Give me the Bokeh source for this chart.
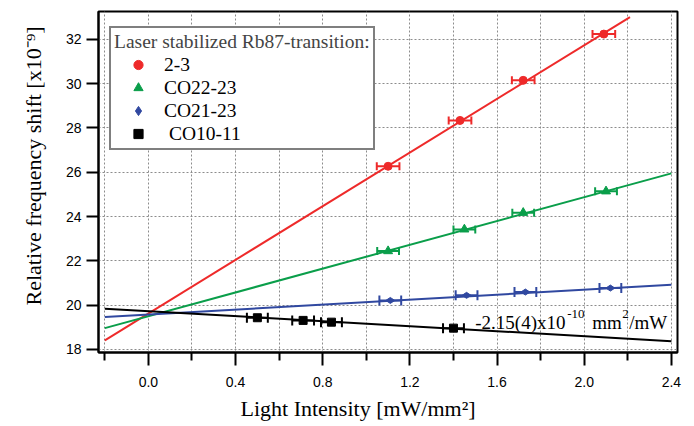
import math
from bokeh.plotting import figure
from bokeh.models import (ColumnDataSource, Whisker, TeeHead, FixedTicker, Legend, LegendItem,
                          PrintfTickFormatter, Range1d, Label, Title)
from bokeh.embed import file_html
from bokeh.resources import INLINE

# ---- data ----
red_x = [1.10, 1.43, 1.72, 2.09]
red_y = [26.27, 28.34, 30.15, 32.24]
red_xerr = [0.052, 0.052, 0.052, 0.052]
red_fit_x = [-0.2, 2.21]
red_fit_y = [18.41, 33.01]

green_x = [1.10, 1.45, 1.72, 2.10]
green_y = [22.44, 23.42, 24.17, 25.14]
green_xerr = [0.05, 0.05, 0.05, 0.05]
green_fit_x = [-0.2, 2.4]
green_fit_y = [18.96, 25.95]

blue_x = [1.11, 1.46, 1.73, 2.12]
blue_y = [20.21, 20.44, 20.59, 20.77]
blue_xerr = [0.05, 0.05, 0.05, 0.05]
blue_fit_x = [-0.2, 2.4]
blue_fit_y = [19.46, 20.92]

black_x = [0.50, 0.71, 0.84, 1.40]
black_y = [19.43, 19.31, 19.23, 18.96]
black_xerr = [0.048, 0.05, 0.048, 0.048]
black_fit_x = [-0.2, 2.4]
black_fit_y = [19.84, 18.37]

x_major = [0.0, 0.4, 0.8, 1.2, 1.6, 2.0, 2.4]
x_minor = [-0.2, 0.2, 0.6, 1.0, 1.4, 1.8, 2.2]
y_major = [18, 20, 22, 24, 26, 28, 30, 32]

legend_title = "Laser stabilized Rb87-transition:"
labels = ["2-3", "CO22-23", "CO21-23", " CO10-11"]
x_title = "Light Intensity [mW/mm\u00b2]"
y_title = "Relative frequency shift [x10\u207b\u2079]"
slope_parts = ["-2.15(4)x10", "-10", "mm", "2", "/mW"]

RED = "#ee2a2a"
GREEN = "#0a9e4a"
BLUE = "#3048a0"
BLACK = "#000000"
SERIF = "Liberation Serif"
SANS = "Liberation Sans"

p = figure(width=694, height=426, output_backend="svg", toolbar_location=None,
           x_range=Range1d(-0.229, 2.428), y_range=Range1d(17.86, 33.26),
           min_border_left=98, min_border_right=17, min_border_top=11, min_border_bottom=74)
p.background_fill_color = "white"
p.outline_line_color = "black"
p.outline_line_width = 2

# axes
p.xaxis.ticker = FixedTicker(ticks=x_major, minor_ticks=x_minor)
p.xaxis.formatter = PrintfTickFormatter(format="%.1f")
p.yaxis.ticker = FixedTicker(ticks=y_major, minor_ticks=[])
for ax in (p.xaxis[0], p.yaxis[0]):
    ax.axis_line_width = 2
    ax.major_tick_line_width = 2
    ax.minor_tick_line_width = 2
    ax.major_tick_in = 0
    ax.minor_tick_in = 0
    ax.major_label_text_font = SANS
    ax.major_label_text_font_size = "14px"
    ax.major_label_text_color = "black"
p.xaxis.major_tick_out = 13
p.xaxis.minor_tick_out = 8
p.xaxis.major_label_standoff = 11
p.yaxis.major_tick_out = 12
p.yaxis.minor_tick_out = 0
p.yaxis.major_label_standoff = 5

# axis titles, offset along the axis like the reference
p.add_layout(Title(text=x_title, align="left", offset=142, standoff=8,
                   text_font=SERIF, text_font_size="22px", text_font_style="normal",
                   text_color="black"), "below")
p.add_layout(Title(text=y_title, align="left", offset=47, standoff=33,
                   text_font=SERIF, text_font_size="22px", text_font_style="normal",
                   text_color="black"), "left")

# grid
p.xgrid.ticker = FixedTicker(ticks=sorted(x_major + x_minor))
for g in (p.xgrid[0], p.ygrid[0]):
    g.grid_line_color = "#8c8c8c"
    g.grid_line_dash = "2 2"
    g.grid_line_width = 1

series = [
    (red_x, red_y, red_xerr, red_fit_x, red_fit_y, RED, "circle", 8, 0.0, 8),
    (green_x, green_y, green_xerr, green_fit_x, green_fit_y, GREEN, "triangle", 9, 0.0, 8),
    (blue_x, blue_y, blue_xerr, blue_fit_x, blue_fit_y, BLUE, "diamond", 9, math.pi / 2, 10),
    (black_x, black_y, black_xerr, black_fit_x, black_fit_y, BLACK, "square", 8, 0.0, 10),
]

renderers = []
for xs, ys, xe, fx, fy, col, mk, sz, ang, cap in series:
    p.line(fx, fy, line_color=col, line_width=2)
    src = ColumnDataSource(dict(x=xs, y=ys,
                                lo=[a - b for a, b in zip(xs, xe)],
                                hi=[a + b for a, b in zip(xs, xe)]))
    w = Whisker(source=src, base="y", lower="lo", upper="hi", dimension="width",
                line_color=col, line_width=2, level="glyph",
                upper_head=TeeHead(size=cap, line_color=col, line_width=2),
                lower_head=TeeHead(size=cap, line_color=col, line_width=2))
    p.add_layout(w)
    r = p.scatter("x", "y", source=src, marker=mk, size=sz, angle=ang,
                  fill_color=col, line_color=col)
    renderers.append(r)

legend = Legend(items=[LegendItem(label=l, renderers=[r]) for l, r in zip(labels, renderers)],
                title=legend_title, location=(11, 202), margin=0,
                padding=3, glyph_width=48, glyph_height=23, spacing=0, label_standoff=2,
                title_standoff=0,
                title_text_font=SERIF, title_text_font_size="19.5px", title_text_font_style="normal",
                label_text_font=SERIF, label_text_font_size="19.5px", label_text_color="black",
                border_line_color="black", border_line_width=2,
                background_fill_color="white", background_fill_alpha=1.0)
p.add_layout(legend)

# slope annotation with superscripts
slope_x, slope_y = 1.50, 19.23
offsets = [(0, 0, "19px"), (92, 8, "13px"), (117, 0, "19px"), (147, 8, "13px"), (154, 0, "19px")]
for txt, (dx, dy, fs) in zip(slope_parts, offsets):
    p.add_layout(Label(x=slope_x, y=slope_y, x_offset=dx, y_offset=dy, text=txt,
                       text_baseline="middle", text_font=SERIF, text_font_size=fs,
                       text_color="black"))

open("out.html", "w").write(file_html(p, INLINE))
